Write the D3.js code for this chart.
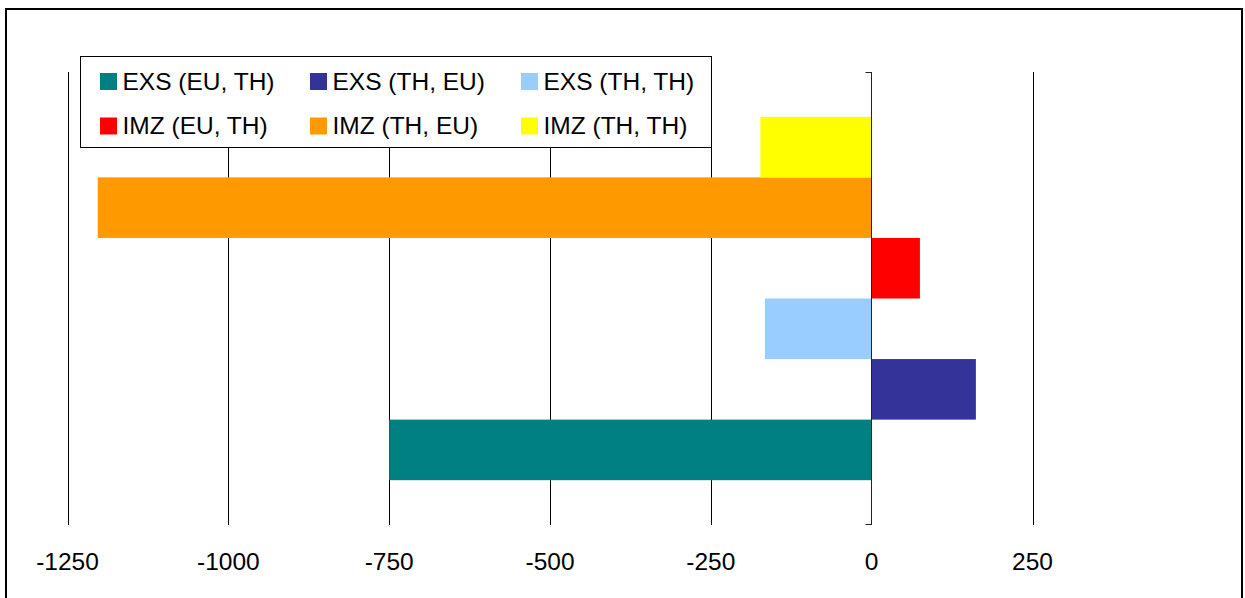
<!DOCTYPE html>
<html>
<head>
<meta charset="utf-8">
<script src="https://cdn.jsdelivr.net/npm/d3@7/dist/d3.min.js"></script>
<style>
  html, body { margin: 0; padding: 0; background: #fff; }
  svg { display: block; font-family: "Liberation Sans", Arial, sans-serif; }
</style>
</head>
<body>
<svg id="chart" width="1245" height="598"></svg>
<script>
// Data
const seriesNames = ["EXS (EU, TH)", "EXS (TH, EU)", "EXS (TH, TH)", "IMZ (EU, TH)", "IMZ (TH, EU)", "IMZ (TH, TH)"];
const seriesValues = [-750, 162, -166, 75, -1203, -173];
const seriesColors = ["#008080", "#333399", "#99CCFF", "#FF0000", "#FF9900", "#FFFF00"];
const tickValues = [-1250, -1000, -750, -500, -250, 0, 250];

const svg = d3.select("#chart");

// Outer border
svg.append("rect")
  .attr("x", 6).attr("y", 9)
  .attr("width", 1236).attr("height", 620)
  .attr("fill", "#fff")
  .attr("stroke", "#000").attr("stroke-width", 2);

const plotTop = 72, plotBottom = 525;
const x = d3.scaleLinear().domain([-1250, 250]).range([67.5, 1032.5]);
// bars drawn top to bottom in reverse series order
const y = d3.scaleBand()
  .domain(seriesNames.slice().reverse())
  .range([plotTop, plotBottom])
  .paddingInner(0)
  .paddingOuter(0.74);

// Gridlines
const grid = svg.append("g");
grid.selectAll("line")
  .data(tickValues.filter(v => v !== 0))
  .enter().append("line")
  .attr("x1", d => Math.round(x(d)) + 0.5)
  .attr("x2", d => Math.round(x(d)) + 0.5)
  .attr("y1", plotTop).attr("y2", plotBottom)
  .attr("stroke", "#000").attr("stroke-width", 1);

// Bars
const data = seriesNames.map((n, i) => ({ name: n, value: seriesValues[i], color: seriesColors[i] }));
svg.append("g").selectAll("rect")
  .data(data)
  .enter().append("rect")
  .attr("x", d => x(Math.min(0, d.value)))
  .attr("width", d => Math.abs(x(d.value) - x(0)))
  .attr("y", d => y(d.name))
  .attr("height", y.bandwidth())
  .attr("fill", d => d.color);

// Zero axis (category axis) with end ticks
const x0 = Math.round(x(0)) - 0.5;
const axis = svg.append("g").attr("stroke", "#222").attr("stroke-width", 1).attr("fill", "none");
axis.append("line").attr("x1", x0).attr("x2", x0).attr("y1", plotTop).attr("y2", plotBottom);
axis.append("line").attr("x1", x0 - 6).attr("x2", x0).attr("y1", plotTop + 0.5).attr("y2", plotTop + 0.5);
axis.append("line").attr("x1", x0 - 6).attr("x2", x0).attr("y1", plotBottom - 0.5).attr("y2", plotBottom - 0.5);

// Tick labels
svg.append("g").selectAll("text")
  .data(tickValues)
  .enter().append("text")
  .attr("x", d => x(d))
  .attr("y", 570)
  .attr("text-anchor", "middle")
  .attr("font-size", "24.5px")
  .attr("fill", "#000")
  .text(d => d);

// Legend
const legend = svg.append("g");
legend.append("rect")
  .attr("x", 80.5).attr("y", 56.5)
  .attr("width", 631).attr("height", 91)
  .attr("fill", "#fff").attr("stroke", "#000").attr("stroke-width", 1);

const colX = [100, 310, 521];
const rowY = [73, 117.5];
const items = legend.selectAll("g.item")
  .data(data)
  .enter().append("g")
  .attr("class", "item")
  .attr("transform", (d, i) => `translate(${colX[i % 3]},${rowY[Math.floor(i / 3)]})`);
items.append("rect")
  .attr("width", 17).attr("height", 17)
  .attr("fill", d => d.color);
items.append("text")
  .attr("x", 22.5).attr("y", 16.5)
  .attr("font-size", "24.5px")
  .attr("fill", "#000")
  .text(d => d.name);
</script>
</body>
</html>
